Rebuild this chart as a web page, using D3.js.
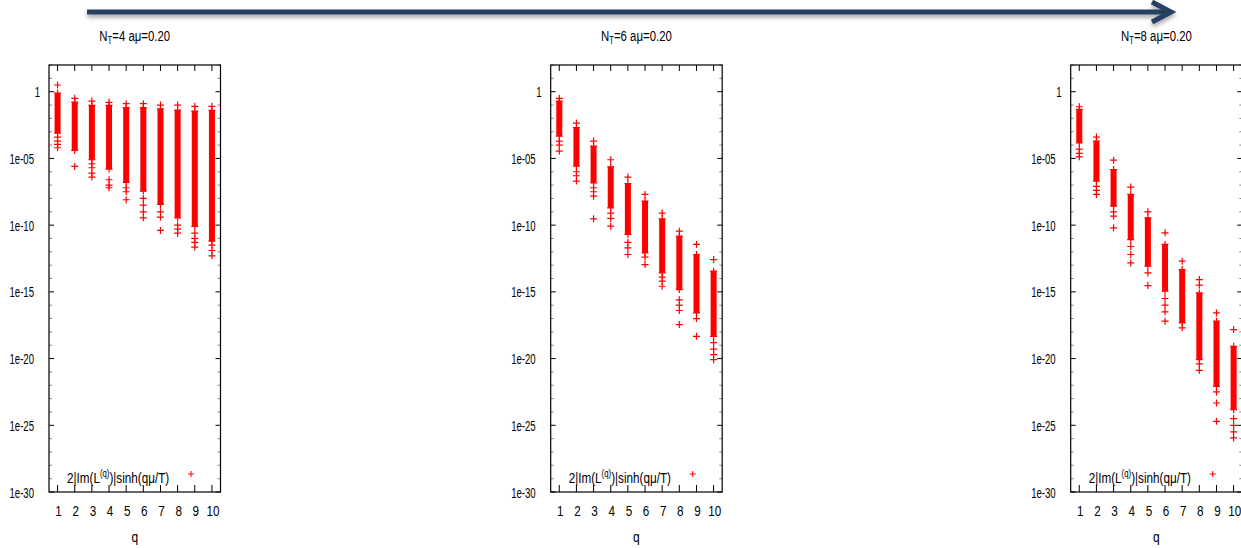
<!DOCTYPE html>
<html>
<head>
<meta charset="utf-8">
<script src="https://cdn.jsdelivr.net/npm/d3@7"></script>
<style>
  html, body { margin: 0; padding: 0; background: #fff; }
  svg { display: block; font-family: "Liberation Sans", Arial, sans-serif; }
</style>
</head>
<body>
<svg id="chart" width="1241" height="548"></svg>
<script>
// panel titles (N_T values), q categories, y tick exponents
const ntValues = [4, 6, 8];
const muLabel = '0.20';
const qValues = [1, 2, 3, 4, 5, 6, 7, 8, 9, 10];
const yMajorExp = [0, -5, -10, -15, -20, -25, -30];
const yTickLabels = ['1', '1e-05', '1e-10', '1e-15', '1e-20', '1e-25', '1e-30'];

// dense part of each column (log10 of value): top and bottom
const bandHi1 = [-0.1, -0.78, -1.03, -1.03, -1.2, -1.2, -1.28, -1.38, -1.45, -1.4];
const bandLo1 = [-3.1, -4.4, -5.1, -5.8, -6.8, -7.45, -8.45, -9.45, -10.1, -11.2];
const bandHi2 = [-0.7, -2.7, -4.08, -5.63, -6.88, -8.2, -9.53, -10.83, -12.2, -13.45];
const bandLo2 = [-3.33, -5.58, -6.83, -8.7, -10.7, -12.08, -13.58, -14.83, -16.58, -18.33];
const bandHi3 = [-1.33, -3.7, -5.83, -7.7, -9.45, -11.45, -13.33, -15.08, -17.2, -19.08];
const bandLo3 = [-3.83, -6.7, -8.58, -11.08, -13.08, -14.95, -17.33, -20.08, -22.08, -23.83];

// isolated points [q, log10 value]
const outliers1 = [
  [1, 0.5], [1, -3.4], [1, -3.7], [1, -3.95], [1, -4.2],
  [2, -0.5], [2, -5.6],
  [3, -0.7], [3, -5.4], [3, -5.7], [3, -6.1], [3, -6.4],
  [4, -0.8], [4, -6.6], [4, -7.0], [4, -7.2],
  [5, -0.9], [5, -7.2], [5, -7.5], [5, -8.1],
  [6, -0.9], [6, -8.0], [6, -8.5], [6, -9.0], [6, -9.45],
  [7, -1.0], [7, -9.0], [7, -9.4], [7, -10.4],
  [8, -1.0], [8, -10.0], [8, -10.3], [8, -10.6],
  [9, -1.1], [9, -10.6], [9, -11.0], [9, -11.3], [9, -11.65],
  [10, -1.1], [10, -11.5], [10, -11.9], [10, -12.3]
];
const outliers2 = [
  [1, -0.5], [1, -3.7], [1, -4.0], [1, -4.45],
  [2, -2.35], [2, -6.0], [2, -6.3], [2, -6.7],
  [3, -3.7], [3, -7.2], [3, -7.5], [3, -7.83], [3, -9.53],
  [4, -5.1], [4, -9.1], [4, -9.5], [4, -10.08],
  [5, -6.4], [5, -11.3], [5, -11.7], [5, -12.2],
  [6, -7.7], [6, -12.4], [6, -12.96],
  [7, -9.1], [7, -13.9], [7, -14.2], [7, -14.58],
  [8, -10.45], [8, -15.6], [8, -16.0], [8, -16.4], [8, -17.45],
  [9, -11.45], [9, -17.0], [9, -18.33],
  [10, -12.58], [10, -18.8], [10, -19.3], [10, -19.7], [10, -20.08]
];
const outliers3 = [
  [1, -1.13], [1, -4.3], [1, -4.63], [1, -4.88],
  [2, -3.4], [2, -7.1], [2, -7.4], [2, -7.7],
  [3, -5.13], [3, -9.0], [3, -9.33], [3, -10.2],
  [4, -7.15], [4, -11.6], [4, -12.2], [4, -12.83],
  [5, -9.0], [5, -13.58], [5, -14.53],
  [6, -10.58], [6, -15.5], [6, -16.0], [6, -16.5], [6, -17.2],
  [7, -12.7], [7, -17.7],
  [8, -14.08], [8, -14.5], [8, -20.4], [8, -20.88],
  [9, -16.58], [9, -22.5], [9, -23.33], [9, -24.7],
  [10, -17.83], [10, -24.5], [10, -25.0], [10, -25.5], [10, -25.95]
];

const panels = [
  { nt: ntValues[0], hi: bandHi1, lo: bandLo1, pts: outliers1, left: 49 },
  { nt: ntValues[1], hi: bandHi2, lo: bandLo2, pts: outliers2, left: 550.7 },
  { nt: ntValues[2], hi: bandHi3, lo: bandLo3, pts: outliers3, left: 1070.7 }
];

const plotTop = 65, plotBottom = 492, pw = 171.5;
const red = '#ff0000';

const svg = d3.select('#chart');

// arrow across the top
const defs = svg.append('defs');
const shadow = defs.append('filter').attr('id', 'shadow')
  .attr('x', '-5%').attr('y', '-100%').attr('width', '110%').attr('height', '300%');
shadow.append('feDropShadow').attr('dx', 0).attr('dy', 3)
  .attr('stdDeviation', 2).attr('flood-color', '#000').attr('flood-opacity', 0.35);

const arrow = svg.append('g').attr('filter', 'url(#shadow)')
  .attr('stroke', '#253f62').attr('fill', 'none').attr('stroke-width', 5);
arrow.append('line').attr('x1', 87).attr('x2', 1170).attr('y1', 12).attr('y2', 12);
arrow.append('path').attr('d', 'M1152,2L1171,12L1152,22').attr('stroke-linejoin', 'miter');

const plus = 'M-3.5,0H3.5M0,-3.5V3.5';

// squeezed text helper
function label(g, x, y, anchor, sx, size) {
  return g.append('g').attr('transform', `translate(${x},${y}) scale(${sx},1)`)
    .append('text').attr('text-anchor', anchor).attr('font-size', size).attr('fill', '#000');
}

panels.forEach((p) => {
  const x = d3.scaleLinear().domain([0.5, 10.5]).range([p.left, p.left + pw]);
  const y = d3.scaleLog().domain([1e-30, 1e2]).range([plotBottom, plotTop]);
  const g = svg.append('g');
  const cx = p.left + pw / 2;

  // title
  const t = label(g, cx, 41, 'middle', 0.76, 15);
  t.append('tspan').text('N');
  t.append('tspan').attr('font-size', 10).attr('dy', 3).text('T');
  t.append('tspan').attr('dy', -3).text(`=${p.nt} aμ=${muLabel}`);

  // y ticks: minor every decade, major every 5
  const minor = d3.range(-30, 3).filter((e) => !yMajorExp.includes(e));
  minor.forEach((e) => {
    const yy = y(Math.pow(10, e));
    g.append('line').attr('x1', p.left).attr('x2', p.left + 3).attr('y1', yy).attr('y2', yy)
      .attr('stroke', '#888');
    g.append('line').attr('x1', p.left + pw - 3).attr('x2', p.left + pw).attr('y1', yy).attr('y2', yy)
      .attr('stroke', '#888');
  });
  yMajorExp.forEach((e, i) => {
    const yy = y(Math.pow(10, e));
    g.append('line').attr('x1', p.left).attr('x2', p.left + 5).attr('y1', yy).attr('y2', yy)
      .attr('stroke', '#000');
    g.append('line').attr('x1', p.left + pw - 5).attr('x2', p.left + pw).attr('y1', yy).attr('y2', yy)
      .attr('stroke', '#000');
    label(g, p.left - (e === 0 ? 9 : 15), yy + 5.5, 'end', 0.64, 15).text(yTickLabels[i]);
  });

  // x ticks top and bottom
  qValues.forEach((q) => {
    const xx = x(q);
    g.append('line').attr('x1', xx).attr('x2', xx).attr('y1', plotTop).attr('y2', plotTop + 6).attr('stroke', '#000');
    g.append('line').attr('x1', xx).attr('x2', xx).attr('y1', plotBottom).attr('y2', plotBottom - 7).attr('stroke', '#000');
    label(g, xx + 1, 516, 'middle', 0.78, 15).text(q);
  });
  label(g, cx, 542, 'middle', 0.8, 15).text('q');

  // frame
  g.append('rect').attr('x', p.left).attr('y', plotTop).attr('width', pw).attr('height', plotBottom - plotTop)
    .attr('fill', 'none').attr('stroke', '#000').attr('stroke-width', 1.2);

  // dense bands
  g.selectAll('rect.band').data(qValues).enter().append('rect').attr('class', 'band')
    .attr('x', (q) => x(q) - 3)
    .attr('width', 6)
    .attr('y', (q, i) => y(Math.pow(10, p.hi[i])))
    .attr('height', (q, i) => y(Math.pow(10, p.lo[i])) - y(Math.pow(10, p.hi[i])))
    .attr('fill', red);

  // band end markers and isolated points
  const ends = [];
  qValues.forEach((q, i) => { ends.push([q, p.hi[i]], [q, p.lo[i]]); });
  g.selectAll('path.pt').data(ends.concat(p.pts)).enter().append('path').attr('class', 'pt')
    .attr('transform', (d) => `translate(${x(d[0])},${y(Math.pow(10, d[1]))})`)
    .attr('d', plus).attr('stroke', red).attr('stroke-width', 1.2).attr('fill', 'none');

  // legend
  const lg = label(g, p.left + 18, 483, 'start', 0.78, 15);
  lg.append('tspan').text('2|Im(L');
  lg.append('tspan').attr('font-size', 10).attr('dy', -6).text('(q)');
  lg.append('tspan').attr('dy', 6).text(')|sinh(qμ/T)');
  g.append('path').attr('transform', `translate(${p.left + 142},474)`)
    .attr('d', 'M-3,0H3M0,-3V3').attr('stroke', red).attr('fill', 'none');
});
</script>
</body>
</html>
